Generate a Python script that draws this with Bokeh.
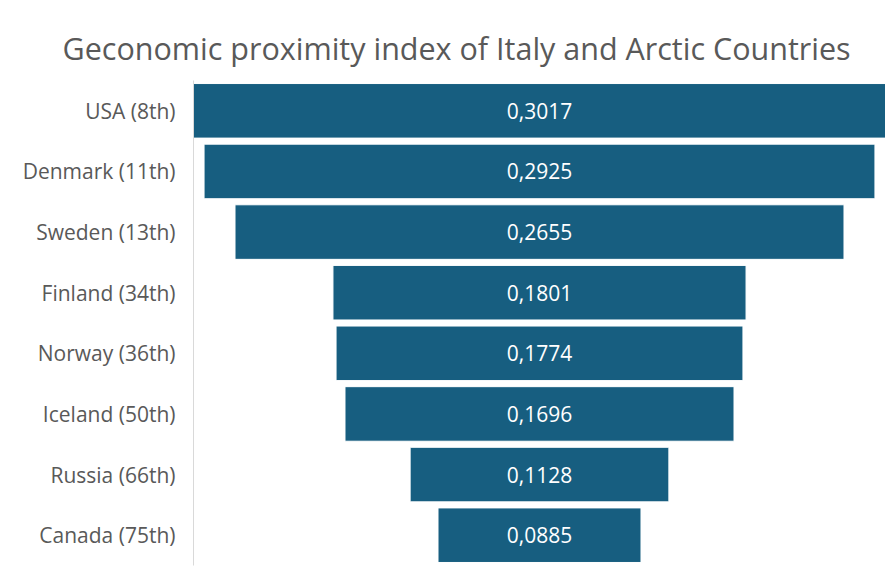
from bokeh.plotting import figure
from bokeh.models import ColumnDataSource, FactorRange, Range1d, LabelSet
from bokeh.core.properties import value
from bokeh.embed import file_html
from bokeh.resources import INLINE

title_text = "Geconomic proximity index of Italy and Arctic Countries"
countries = ["USA (8th)", "Denmark (11th)", "Sweden (13th)", "Finland (34th)",
             "Norway (36th)", "Iceland (50th)", "Russia (66th)", "Canada (75th)"]
values = [0.3017, 0.2925, 0.2655, 0.1801, 0.1774, 0.1696, 0.1128, 0.0885]
labels = [f"{v:.4f}".replace(".", ",") for v in values]

FONT = "Open Sans"
BAR = "#175e80"
GREY = "#595959"

src = ColumnDataSource(dict(
    cat=countries,
    left=[-v / 2 for v in values],
    right=[v / 2 for v in values],
    mid=[0.0] * len(values),
    lab=labels,
))

half = max(values) / 2
p = figure(width=885, height=570, output_backend="svg", toolbar_location=None,
           y_range=FactorRange(*reversed(countries)),
           x_range=Range1d(-half, half),
           min_border_left=193, min_border_right=0,
           min_border_bottom=5, min_border_top=80,
           title=title_text)

p.hbar(y="cat", left="left", right="right", height=0.9, source=src,
       fill_color=BAR, line_color="white", line_width=1)

p.add_layout(LabelSet(x="mid", y="cat", text="lab", source=src,
                      text_align="center", text_baseline="middle",
                      text_color="white", text_font=value(FONT),
                      text_font_size="21px"))

p.title.text_font = FONT
p.title.text_font_size = "30.5px"
p.title.text_font_style = "normal"
p.title.text_color = GREY
p.title.align = "left"
p.title.offset = -131
p.title.standoff = 24

p.xaxis.visible = False
p.xgrid.grid_line_color = None
p.ygrid.grid_line_color = None
p.outline_line_color = None

ax = p.yaxis[0]
ax.axis_line_color = "#d9d9d9"
ax.major_tick_line_color = None
ax.minor_tick_line_color = None
ax.major_tick_out = 0
ax.major_tick_in = 0
ax.major_label_text_font = FONT
ax.major_label_text_font_size = "21px"
ax.major_label_text_color = GREY
ax.major_label_standoff = 18

open("out.html", "w").write(file_html(p, INLINE))
